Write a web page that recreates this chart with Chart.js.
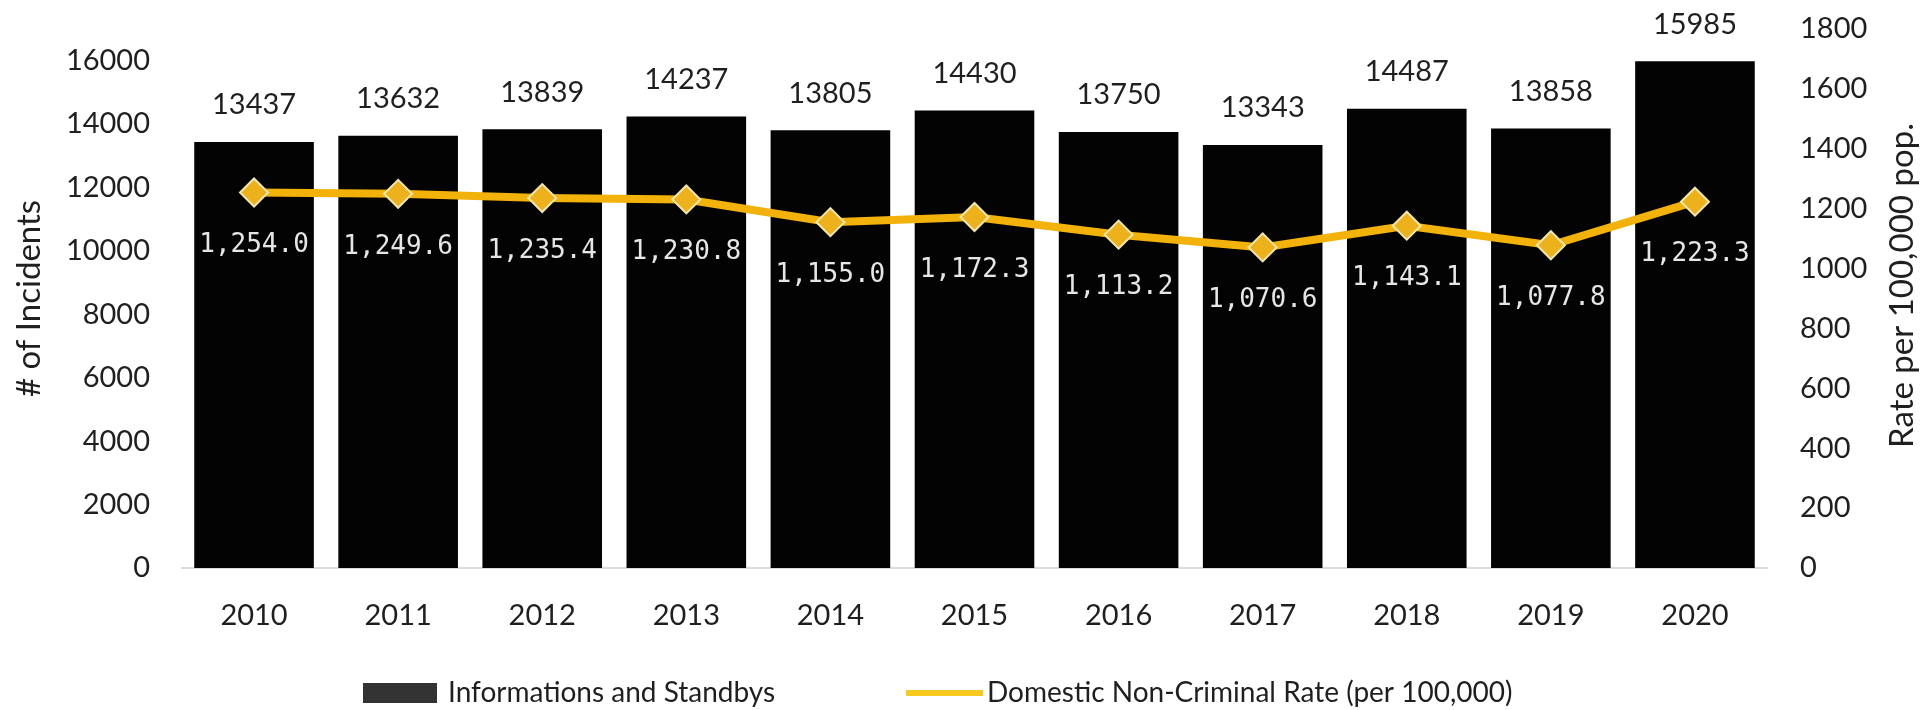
<!DOCTYPE html>
<html>
<head>
<meta charset="utf-8">
<title>Informations and Standbys</title>
<script src="https://cdn.jsdelivr.net/npm/chart.js@4.4.1/dist/chart.umd.min.js"></script>
<style>
  html, body { margin: 0; padding: 0; background: #fff; }
  canvas { display: block; }
</style>
</head>
<body>
<canvas id="incidentsChart" width="1927" height="710"></canvas>
<script>
// Yearly counts and rates
const years = ['2010', '2011', '2012', '2013', '2014', '2015', '2016', '2017', '2018', '2019', '2020'];
const incidents = [13437, 13632, 13839, 14237, 13805, 14430, 13750, 13343, 14487, 13858, 15985];
const rates = [1254.0, 1249.6, 1235.4, 1230.8, 1155.0, 1172.3, 1113.2, 1070.6, 1143.1, 1077.8, 1223.3];

// Axis ticks
const incidentTicks = [0, 2000, 4000, 6000, 8000, 10000, 12000, 14000, 16000];
const rateTicks = [0, 200, 400, 600, 800, 1000, 1200, 1400, 1600, 1800];

const barLabel = 'Informations and Standbys';
const lineLabel = 'Domestic Non-Criminal Rate (per 100,000)';

const TEXT = '#1f1f1f';
const GOLD = '#F2B20A';

// Numbers above the bars and under the rate markers
const valueLabels = {
    id: 'valueLabels',
    afterDatasetsDraw(chart) {
        const ctx = chart.ctx;
        ctx.save();
        ctx.textAlign = 'center';
        ctx.textBaseline = 'middle';

        ctx.font = '29px Lato';
        ctx.fillStyle = TEXT;
        chart.getDatasetMeta(1).data.forEach((bar, i) => {
            ctx.fillText(String(incidents[i]), bar.x, bar.y - 37);
        });

        ctx.font = '26px "DejaVu Sans Mono"';
        ctx.fillStyle = '#e6e6e6';
        chart.getDatasetMeta(0).data.forEach((pt, i) => {
            const txt = rates[i].toLocaleString('en-US', { minimumFractionDigits: 1, maximumFractionDigits: 1 });
            ctx.fillText(txt, pt.x, pt.y + 53);
        });
        ctx.restore();
    }
};

// Right axis title reads bottom-to-top, plus the legend row along the bottom
const extras = {
    id: 'extras',
    afterDraw(chart) {
        const ctx = chart.ctx;
        const area = chart.chartArea;
        ctx.save();

        ctx.font = '33px Lato';
        ctx.fillStyle = TEXT;
        ctx.textAlign = 'center';
        ctx.textBaseline = 'middle';
        ctx.translate(1902, (area.top + area.bottom) / 2 - 13);
        ctx.rotate(-Math.PI / 2);
        ctx.fillText('Rate per 100,000 pop.', 0, 0);
        ctx.setTransform(1, 0, 0, 1, 0, 0);

        ctx.font = '28px Lato';
        ctx.textAlign = 'left';
        const y = 693;

        ctx.fillStyle = '#333333';
        ctx.fillRect(363, y - 10, 74, 20);
        ctx.fillStyle = TEXT;
        ctx.fillText(barLabel, 448, y);

        ctx.strokeStyle = '#F7C81E';
        ctx.lineWidth = 6;
        ctx.beginPath();
        ctx.moveTo(906, y);
        ctx.lineTo(983, y);
        ctx.stroke();
        ctx.fillText(lineLabel, 987, y);

        ctx.restore();
    }
};

// y axes: fixed widths, and no extra room reserved above/below for tick labels
function fixY(width) {
    return function (scale) {
        scale.width = width;
        scale.paddingTop = 0;
        scale.paddingBottom = 0;
    };
}

const ctx = document.getElementById('incidentsChart').getContext('2d');
const incidentsChart = new Chart(ctx, {
    data: {
        labels: years,
        datasets: [
            {
                type: 'line',
                label: lineLabel,
                data: rates,
                yAxisID: 'y1',
                order: 0,
                borderColor: GOLD,
                borderWidth: 8,
                pointStyle: 'rectRot',
                pointRadius: 14,
                pointBackgroundColor: '#EDB21B',
                pointBorderColor: '#F3E6B0',
                pointBorderWidth: 2,
                tension: 0
            },
            {
                type: 'bar',
                label: barLabel,
                data: incidents,
                yAxisID: 'y',
                order: 1,
                backgroundColor: '#030303',
                categoryPercentage: 0.83,
                barPercentage: 1
            }
        ]
    },
    options: {
        responsive: false,
        animation: false,
        layout: { padding: { top: 29, bottom: 0, left: 0, right: 0 } },
        plugins: {
            legend: { display: false },
            tooltip: { enabled: false }
        },
        scales: {
            x: {
                grid: { display: false, drawTicks: false },
                border: { display: true, color: '#dcdcdc', width: 2 },
                ticks: { color: TEXT, font: { family: 'Lato', size: 29 }, padding: 30, maxRotation: 0 },
                afterFit(scale) { scale.height = 142; }
            },
            y: {
                position: 'left',
                min: 0,
                max: 17000,
                grid: { display: false, drawTicks: false },
                border: { display: false },
                ticks: {
                    color: TEXT,
                    font: { family: 'Lato', size: 29 },
                    padding: 32,
                    callback: v => String(v)
                },
                afterBuildTicks(axis) { axis.ticks = incidentTicks.map(v => ({ value: v })); },
                title: {
                    display: true,
                    text: '# of Incidents',
                    color: TEXT,
                    font: { family: 'Lato', size: 33 },
                    padding: { top: 10, bottom: 0 }
                },
                afterFit: fixY(182)
            },
            y1: {
                position: 'right',
                min: 0,
                max: 1800,
                grid: { display: false, drawTicks: false },
                border: { display: false },
                ticks: {
                    color: TEXT,
                    font: { family: 'Lato', size: 29 },
                    padding: 33,
                    callback: v => String(v)
                },
                afterBuildTicks(axis) { axis.ticks = rateTicks.map(v => ({ value: v })); },
                afterFit: fixY(160)
            }
        }
    },
    plugins: [valueLabels, extras]
});
</script>
</body>
</html>
